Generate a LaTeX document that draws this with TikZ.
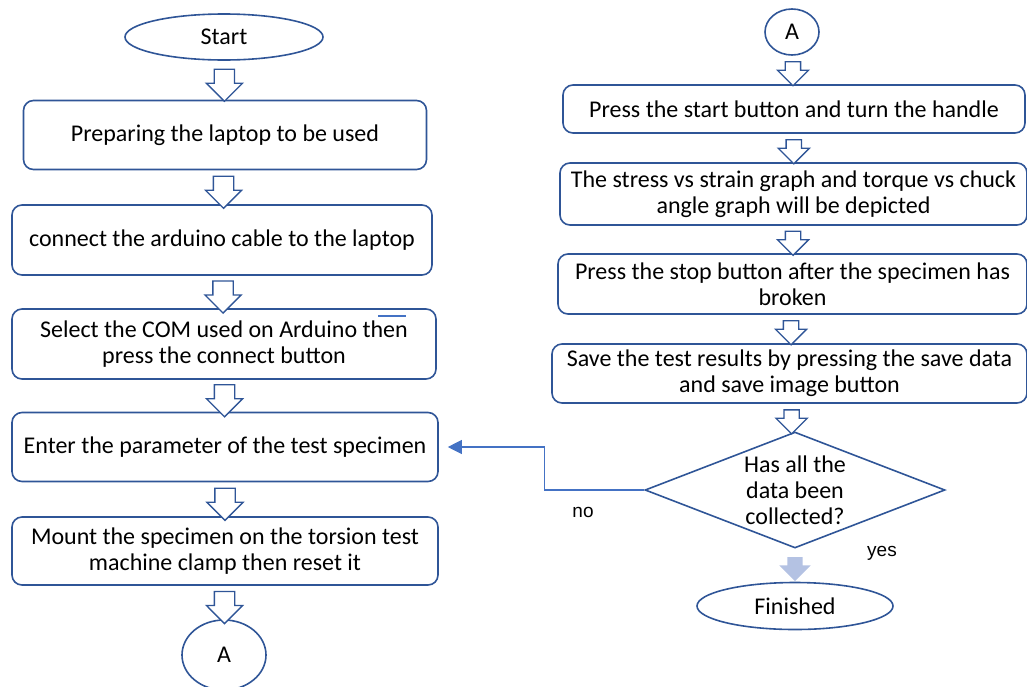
\documentclass[tikz,border=0pt]{standalone}
\usepackage{fontspec}
\setmainfont{Carlito}
\newfontfamily\labelfont{Liberation Sans}
\usetikzlibrary{shapes.geometric,shapes.arrows,arrows.meta,calc}
\definecolor{boxblue}{HTML}{2F5597}
\definecolor{lineblue}{HTML}{4472C4}
\definecolor{paleblue}{HTML}{B4C2E3}

\begin{document}
\begin{tikzpicture}[x=1pt,y=-1pt,
  every node/.style={font=\fontsize{24}{26}\selectfont},
  stepbox/.style={draw=boxblue,line width=1.6pt,rounded corners=10pt,align=center,inner sep=0pt},
  terminal/.style={draw=boxblue,line width=1.6pt,ellipse,inner sep=0pt},
  check/.style={draw=boxblue,line width=1.6pt,diamond,aspect=2.6,inner sep=0pt,align=center},
  harrow/.style={single arrow,draw=boxblue,line width=1.3pt,fill=white,shape border rotate=270,
    inner sep=9.5pt,single arrow head extend=8pt,minimum height=32pt},
  smallarrow/.style={harrow,inner sep=7pt,minimum height=24pt},
  yesarrow/.style={smallarrow,draw=none,fill=paleblue},
  noline/.style={draw=lineblue,line width=1.1pt},
  answer/.style={font=\labelfont\fontsize{19}{22}\selectfont}]
\useasboundingbox (0,0) rectangle (1027,686);

% left column
\node[terminal,minimum width=198pt,minimum height=46pt] (start)   at (224,37)  {Start};
\node[stepbox,minimum width=403pt,minimum height=69pt]  (prep)    at (225,135) {Preparing the laptop to be used};
\node[stepbox,minimum width=420pt,minimum height=70pt]  (cable)   at (222,240) {connect the arduino cable to the laptop};
\node[stepbox,minimum width=424pt,minimum height=70pt]  (com)     at (224,344) {Select the COM used on Arduino then\\press the connect button};
\node[stepbox,minimum width=426pt,minimum height=69pt]  (params)  at (225,447) {Enter the parameter of the test specimen};
\node[stepbox,minimum width=426pt,minimum height=68pt]  (mount)   at (225,551) {Mount the specimen on the torsion test\\machine clamp then reset it};
\node[terminal,minimum width=84pt,minimum height=70pt]  (connA)   at (224,655) {A};

% right column
\node[terminal,minimum width=54pt,minimum height=46pt]  (connB)   at (792,32)  {A};
\node[stepbox,minimum width=462pt,minimum height=48pt]  (press)   at (794,109) {Press the start button and turn the handle};
\node[stepbox,minimum width=467pt,minimum height=62pt]  (graphs)  at (793.5,194) {The stress vs strain graph and torque vs chuck\\angle graph will be depicted};
\node[stepbox,minimum width=469pt,minimum height=60pt]  (stop)    at (792.5,284) {Press the stop button after the specimen has\\broken};
\node[stepbox,minimum width=475pt,minimum height=59pt]  (save)    at (789.5,373.5) {Save the test results by pressing the save data\\and save image button};
\node[check,minimum width=300pt,minimum height=116pt]   (collect) at (795,490) {Has all the\\data been\\collected?};
\node[terminal,minimum width=196pt,minimum height=47pt] (done)    at (795,606) {Finished};

% hollow arrows
\path (start)  -- node[harrow]{} (prep);
\path (prep)   -- node[harrow]{} (cable);
\path (cable)  -- node[harrow]{} (com);
\path (com)    -- node[harrow]{} (params);
\path (params) -- node[harrow]{} (mount);
\path (mount)  -- node[harrow]{} (connA);
\path (connB)  -- node[smallarrow]{} (press);
\path (press)  -- node[smallarrow]{} (graphs);
\path (graphs) -- node[smallarrow]{} (stop);
\path (stop)   -- node[smallarrow]{} (save);
\path (save)   -- node[smallarrow]{} (collect);
\path (collect) -- node[yesarrow]{} (done);

% no branch
\draw[noline,-{Triangle[length=14pt,width=14pt]},shorten >=9pt] (collect.west) -- ++(-100,0) |- (params.east);
\draw[noline] (378,316) -- (406,316);
\node[answer] (nolabel)  at (583,512) {no};
\node[answer] (yeslabel) at (882,553) {yes};
\end{tikzpicture}
\end{document}
